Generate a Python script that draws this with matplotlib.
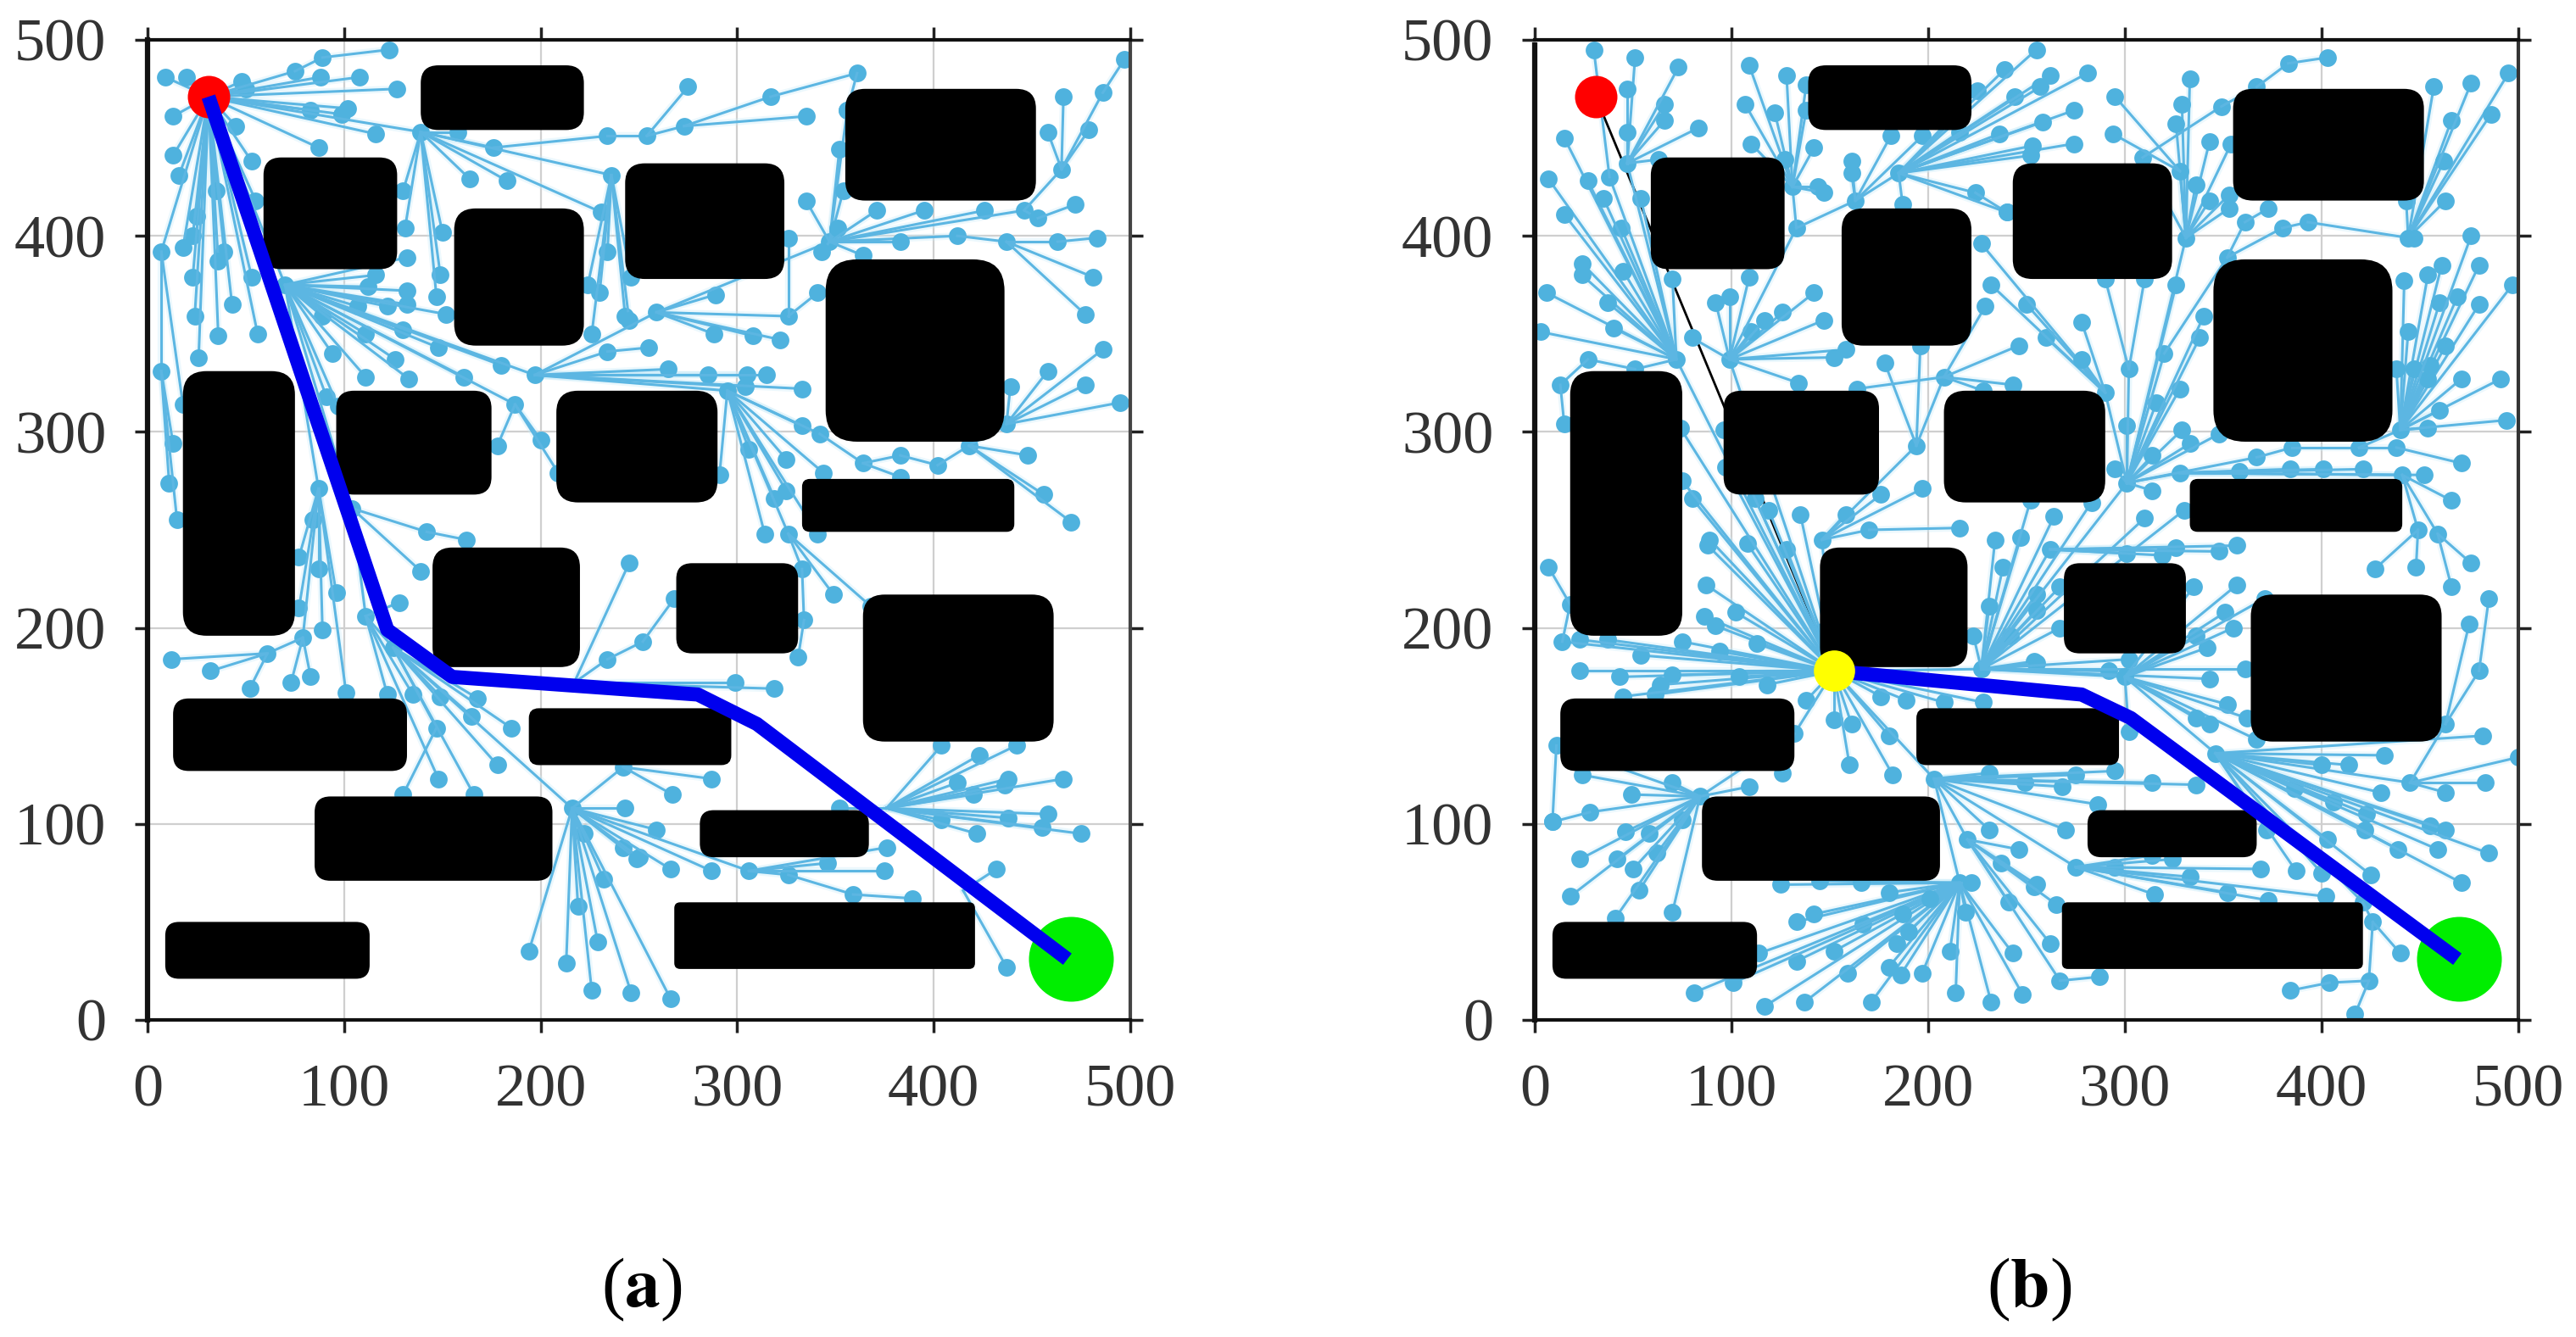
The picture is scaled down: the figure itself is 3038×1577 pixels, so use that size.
import matplotlib
matplotlib.use('Agg')
import matplotlib.pyplot as plt
from matplotlib.patches import FancyBboxPatch

plt.rcParams['font.family'] = ['Liberation Serif', 'DejaVu Serif']
plt.rcParams['mathtext.fontset'] = 'stix'

W, H = 3038, 1577
TICKS = [0, 100, 200, 300, 400, 500]
NODE = '#4fb2de'
LINE = '#5cb6e2'

# obstacles, same map in both panels
ob_x0 = [139, 355, 59, 156, 243, 345, 18, 96, 208, 333, 145, 269, 364, 13, 194, 85, 281, 9, 268]
ob_x1 = [222, 452, 127, 222, 324, 436, 75, 175, 290, 441, 220, 331, 461, 132, 297, 206, 367, 113, 421]
ob_y0 = [454, 418, 383, 344, 378, 295, 196, 268, 264, 249, 180, 187, 142, 127, 130, 71, 83, 21, 26]
ob_y1 = [487, 475, 440, 414, 437, 388, 331, 321, 321, 276, 241, 233, 217, 164, 159, 114, 107, 50, 60]
ob_r = [9, 10, 9, 11, 10, 16, 12, 9, 11, 4, 10, 8, 11, 8, 5, 8, 7, 7, 3]

start = (31, 471)
goal = (470, 31)
via = (152, 178)

path_a_x = [31, 122, 155, 280, 310, 468]
path_a_y = [471, 199, 175, 166, 151, 31]
path_b_x = [152, 278, 303, 469]
path_b_y = [178, 166, 154, 31]

# ---- panel (a) tree: hub + leaves
a1_hub = (31, 471)
a1 = [(9, 481), (20, 481), (48, 479), (50, 475), (75, 484), (88, 481), (108, 481), (127, 475), (83, 464),
      (102, 465), (99, 462), (139, 453), (116, 452), (87, 445), (13, 461), (13, 441), (16, 431), (45, 456),
      (53, 438), (55, 418), (35, 423), (25, 410), (23, 400), (7, 392), (18, 394), (39, 392), (36, 387),
      (23, 379), (53, 379), (43, 365), (24, 359), (36, 349), (56, 350), (26, 338), (70, 375)]
a2_hub = (75, 484)
a2 = [(89, 491)]
a3_hub = (89, 491)
a3 = [(123, 495)]
a4_hub = (7, 392)
a4 = [(7, 331), (18, 314)]
a5_hub = (7, 331)
a5 = [(13, 294), (11, 274), (15, 255)]
a6_hub = (139, 453)
a6 = [(130, 423), (131, 404), (150, 402), (149, 380), (147, 369), (158, 453), (176, 445), (164, 429), (183, 428), (236, 431), (231, 412)]
a7_hub = (176, 445)
a7 = [(234, 451)]
a8_hub = (234, 451)
a8 = [(254, 451)]
a9_hub = (254, 451)
a9 = [(275, 476), (273, 456)]
a10_hub = (273, 456)
a10 = [(317, 471), (335, 461)]
a11_hub = (317, 471)
a11 = [(361, 483)]
a12_hub = (361, 483)
a12 = [(356, 464)]
a13_hub = (236, 431)
a13 = [(234, 392), (230, 371), (226, 350), (224, 375), (243, 359), (245, 357), (246, 379)]
a14_hub = (70, 375)
a14 = [(116, 380), (112, 374), (132, 389), (107, 364), (122, 364), (132, 372), (132, 365), (152, 360),
       (89, 359), (111, 350), (130, 352), (148, 343), (94, 340), (126, 337), (111, 328), (133, 327),
       (161, 328), (180, 334), (197, 329), (187, 314), (91, 318), (97, 313), (87, 271), (104, 261)]
a15_hub = (187, 314)
a15 = [(200, 296), (209, 279), (178, 293)]
a16_hub = (197, 329)
a16 = [(234, 341), (265, 332), (285, 329), (305, 329), (315, 329), (304, 323), (333, 322), (295, 321), (259, 361)]
a17_hub = (234, 341)
a17 = [(255, 343)]
a18_hub = (259, 361)
a18 = [(289, 370), (326, 359), (308, 349), (322, 347), (288, 350), (347, 397)]
a19_hub = (326, 359)
a19 = [(341, 371), (326, 399)]
a20_hub = (347, 397)
a20 = [(356, 464), (352, 444), (354, 423), (335, 418), (351, 404), (371, 413), (395, 413), (426, 413),
       (446, 413), (412, 400), (383, 397), (364, 390), (343, 392)]
a21_hub = (446, 413)
a21 = [(465, 434), (453, 409)]
a22_hub = (465, 434)
a22 = [(466, 471), (458, 453), (479, 454), (486, 473)]
a23_hub = (486, 473)
a23 = [(497, 490)]
a24_hub = (453, 409)
a24 = [(472, 416)]
a25_hub = (412, 400)
a25 = [(437, 397)]
a26_hub = (437, 397)
a26 = [(463, 397), (481, 379), (477, 360)]
a27_hub = (463, 397)
a27 = [(483, 399)]
a28_hub = (295, 321)
a28 = [(306, 291), (325, 286), (291, 278), (344, 279), (325, 270), (319, 266), (314, 248), (326, 248),
       (341, 248), (333, 303), (342, 299)]
a29_hub = (342, 299)
a29 = [(364, 284)]
a30_hub = (364, 284)
a30 = [(383, 288), (383, 277)]
a31_hub = (383, 288)
a31 = [(402, 283)]
a32_hub = (402, 283)
a32 = [(418, 293)]
a33_hub = (418, 293)
a33 = [(437, 304), (448, 288), (456, 268), (470, 254)]
a34_hub = (437, 304)
a34 = [(439, 323), (458, 331), (477, 324), (486, 342), (495, 315)]
a35_hub = (326, 248)
a35 = [(333, 230), (349, 217), (368, 211)]
a36_hub = (333, 230)
a36 = [(334, 204)]
a37_hub = (334, 204)
a37 = [(331, 185)]
a38_hub = (87, 271)
a38 = [(84, 255), (77, 236), (87, 230), (96, 218), (77, 210), (89, 199), (79, 195), (101, 167)]
a39_hub = (79, 195)
a39 = [(61, 187), (73, 172), (83, 175)]
a40_hub = (61, 187)
a40 = [(12, 184), (32, 178), (52, 169)]
a41_hub = (104, 261)
a41 = [(142, 249), (139, 229), (111, 206)]
a42_hub = (142, 249)
a42 = [(162, 245)]
a43_hub = (111, 206)
a43 = [(122, 166), (135, 166), (148, 123), (128, 213), (125, 190)]
a44_hub = (125, 190)
a44 = [(149, 165), (147, 149), (168, 164), (165, 155), (216, 108), (185, 149), (178, 130), (166, 115)]
a45_hub = (147, 149)
a45 = [(130, 115)]
a46_hub = (216, 108)
a46 = [(243, 108), (222, 95), (242, 88), (249, 82), (232, 72), (219, 58), (229, 40), (194, 35), (213, 29),
       (226, 15), (246, 14), (266, 11), (242, 129), (259, 97), (250, 83), (266, 77), (287, 76), (306, 76)]
a47_hub = (242, 129)
a47 = [(287, 123), (267, 115)]
a48_hub = (306, 76)
a48 = [(326, 74), (346, 80), (375, 76), (376, 88)]
a49_hub = (326, 74)
a49 = [(359, 64)]
a50_hub = (359, 64)
a50 = [(389, 62)]
a51_hub = (217, 172)
a51 = [(234, 184), (245, 233), (299, 172), (319, 169)]
a52_hub = (234, 184)
a52 = [(252, 193)]
a53_hub = (252, 193)
a53 = [(268, 215)]
a54_hub = (376, 108)
a54 = [(404, 140), (423, 135), (442, 140), (412, 121), (420, 115), (438, 123), (436, 120), (466, 123),
       (404, 102), (422, 95), (438, 103), (458, 105), (455, 98), (475, 95), (352, 108)]
a55_hub = (415, 66)
a55 = [(437, 27), (432, 77)]

fans_a = [(a1_hub, a1), (a2_hub, a2), (a3_hub, a3), (a4_hub, a4), (a5_hub, a5), (a6_hub, a6), (a7_hub, a7),
          (a8_hub, a8), (a9_hub, a9), (a10_hub, a10), (a11_hub, a11), (a12_hub, a12), (a13_hub, a13),
          (a14_hub, a14), (a15_hub, a15), (a16_hub, a16), (a17_hub, a17), (a18_hub, a18), (a19_hub, a19),
          (a20_hub, a20), (a21_hub, a21), (a22_hub, a22), (a23_hub, a23), (a24_hub, a24), (a25_hub, a25),
          (a26_hub, a26), (a27_hub, a27), (a28_hub, a28), (a29_hub, a29), (a30_hub, a30), (a31_hub, a31),
          (a32_hub, a32), (a33_hub, a33), (a34_hub, a34), (a35_hub, a35), (a36_hub, a36), (a37_hub, a37),
          (a38_hub, a38), (a39_hub, a39), (a40_hub, a40), (a41_hub, a41), (a42_hub, a42), (a43_hub, a43),
          (a44_hub, a44), (a45_hub, a45), (a46_hub, a46), (a47_hub, a47), (a48_hub, a48), (a49_hub, a49),
          (a50_hub, a50), (a51_hub, a51), (a52_hub, a52), (a53_hub, a53), (a54_hub, a54), (a55_hub, a55)]

# ---- panel (b) tree
b1_hub = (152, 178)
b1 = [(88, 242), (108, 243), (128, 240), (87, 222), (102, 208), (86, 206), (92, 201), (113, 192), (146, 198),
      (75, 193), (94, 188), (54, 186), (37, 194), (23, 194), (14, 193), (23, 178), (43, 175), (70, 176),
      (64, 171), (61, 166), (45, 165), (118, 171), (104, 175), (138, 163), (132, 146), (152, 153), (161, 151),
      (160, 130), (182, 125), (180, 145), (176, 165), (189, 163), (208, 162), (228, 162), (203, 123),
      (227, 179), (72, 337), (99, 337), (146, 245), (112, 266), (119, 260), (135, 258), (80, 266), (89, 245),
      (75, 275), (74, 302), (96, 301), (97, 282)]
b2_hub = (14, 193)
b2 = [(18, 212)]
b3_hub = (18, 212)
b3 = [(7, 231)]
b4_hub = (132, 146)
b4 = [(84, 114), (126, 126)]
b5_hub = (84, 114)
b5 = [(109, 119), (70, 121), (49, 115), (24, 125), (11, 140), (28, 106), (46, 96), (58, 95), (75, 102),
      (23, 82), (42, 82), (62, 85), (18, 63), (50, 77), (53, 66), (41, 52), (70, 55)]
b6_hub = (11, 140)
b6 = [(9, 101)]
b7_hub = (28, 106)
b7 = [(9, 101)]
b8_hub = (203, 123)
b8 = [(216, 70), (220, 92), (231, 97), (249, 121), (231, 126), (275, 125), (268, 119), (295, 127), (314, 121),
      (336, 120), (286, 110), (270, 97), (275, 78)]
b9_hub = (216, 70)
b9 = [(133, 50), (142, 54), (167, 49), (114, 34), (133, 30), (152, 35), (159, 24), (101, 19), (81, 14), (117, 7),
      (137, 9), (171, 9), (180, 27), (186, 23), (197, 24), (184, 39), (190, 45), (187, 54), (180, 65), (201, 62),
      (211, 35), (214, 14), (232, 9), (248, 13), (243, 34), (219, 55), (222, 70), (125, 69), (145, 71), (166, 70)]
b10_hub = (220, 92)
b10 = [(237, 80), (241, 60), (246, 87), (254, 68), (255, 69), (265, 59), (262, 39), (267, 20)]
b11_hub = (267, 20)
b11 = [(287, 22)]
b12_hub = (275, 78)
b12 = [(295, 78), (314, 84), (324, 82), (333, 73), (369, 77), (315, 64), (352, 65), (373, 61), (402, 63)]
b13_hub = (227, 179)
b13 = [(234, 245), (247, 246), (238, 231), (231, 211), (223, 196), (242, 196), (255, 217), (254, 183), (301, 274),
       (255, 209), (267, 221), (267, 200), (262, 240), (255, 182), (292, 178), (302, 184), (343, 174), (361, 179),
       (283, 264), (264, 257), (252, 265), (310, 256), (330, 260), (300, 175)]
b14_hub = (262, 240)
b14 = [(301, 238), (319, 237), (326, 241), (348, 239), (357, 242)]
b15_hub = (300, 175)
b15 = [(336, 196), (342, 190), (355, 200), (335, 221), (357, 222), (351, 208), (371, 215), (352, 161), (362, 154),
       (367, 143), (343, 151), (336, 154), (302, 147), (346, 136)]
b16_hub = (346, 136)
b16 = [(482, 145), (432, 135), (414, 130), (445, 121), (430, 116), (400, 130), (386, 118), (406, 111), (423, 105),
       (422, 97), (455, 99), (463, 97), (459, 87), (485, 85), (439, 87), (471, 70), (403, 92), (372, 97), (387, 76),
       (400, 75), (425, 74), (421, 60)]
b17_hub = (445, 121)
b17 = [(463, 116), (483, 121), (500, 134), (463, 151)]
b18_hub = (463, 151)
b18 = [(475, 202), (480, 178)]
b19_hub = (480, 178)
b19 = [(485, 215)]
b20_hub = (421, 60)
b20 = [(426, 50)]
b21_hub = (426, 50)
b21 = [(440, 34), (424, 20)]
b22_hub = (424, 20)
b22 = [(404, 19), (417, 3)]
b23_hub = (404, 19)
b23 = [(384, 15)]
b24_hub = (301, 274)
b24 = [(301, 303), (329, 301), (333, 294), (348, 299), (314, 288), (295, 281), (314, 270), (328, 279), (331, 399),
       (290, 320), (302, 332), (316, 315), (320, 340), (328, 322), (338, 348), (340, 359), (326, 375), (367, 287)]
b25_hub = (302, 332)
b25 = [(290, 378), (310, 378)]
b26_hub = (290, 320)
b26 = [(260, 348), (250, 365), (232, 375), (227, 396), (278, 356), (278, 337)]
b27_hub = (328, 279)
b27 = [(358, 280), (384, 281), (401, 281), (421, 281), (452, 278), (441, 278)]
b28_hub = (367, 287)
b28 = [(385, 292)]
b29_hub = (385, 292)
b29 = [(419, 292)]
b30_hub = (419, 292)
b30 = [(438, 292), (440, 301)]
b31_hub = (438, 292)
b31 = [(471, 284)]
b32_hub = (441, 278)
b32 = [(466, 265), (449, 250), (459, 248)]
b33_hub = (459, 248)
b33 = [(476, 233), (466, 221)]
b34_hub = (449, 250)
b34 = [(448, 231), (427, 230)]
b35_hub = (440, 301)
b35 = [(442, 377), (454, 380), (461, 385), (480, 385), (497, 375), (460, 366), (469, 369), (480, 365), (444, 351),
       (463, 344), (455, 334), (438, 332), (447, 332), (454, 327), (471, 327), (491, 327), (460, 311), (454, 302),
       (494, 306), (476, 400)]
b36_hub = (444, 399)
b36 = [(443, 418), (495, 483), (486, 462), (466, 459), (462, 438), (463, 418), (447, 399), (457, 476), (476, 478)]
b37_hub = (320, 340)
b37 = [(352, 389)]
b38_hub = (352, 389)
b38 = [(380, 404), (361, 407)]
b39_hub = (380, 404)
b39 = [(393, 407)]
b40_hub = (393, 407)
b40 = [(444, 399)]
b41_hub = (361, 407)
b41 = [(373, 414)]
b42_hub = (331, 399)
b42 = [(333, 480), (329, 467), (326, 457), (343, 448), (354, 447), (336, 426), (343, 418), (353, 421), (353, 414),
       (328, 433), (309, 440)]
b43_hub = (328, 433)
b43 = [(295, 471), (294, 452)]
b44_hub = (309, 440)
b44 = [(349, 466)]
b45_hub = (349, 466)
b45 = [(367, 476)]
b46_hub = (367, 476)
b46 = [(383, 488)]
b47_hub = (383, 488)
b47 = [(403, 491)]
b48_hub = (72, 337)
b48 = [(15, 450), (27, 428), (7, 429), (15, 411), (44, 404), (35, 419), (54, 419), (24, 386), (24, 380), (6, 371),
       (45, 382), (37, 366), (3, 351), (40, 353), (70, 378), (47, 437), (51, 332), (38, 430)]
b49_hub = (47, 437)
b49 = [(51, 491), (47, 475), (66, 467), (66, 459), (73, 486), (83, 455), (63, 439), (47, 453)]
b50_hub = (38, 430)
b50 = [(30, 495)]
b51_hub = (51, 332)
b51 = [(27, 337)]
b52_hub = (27, 337)
b52 = [(13, 324)]
b53_hub = (13, 324)
b53 = [(15, 304)]
b54_hub = (99, 337)
b54 = [(92, 366), (99, 369), (109, 379), (126, 361), (142, 371), (147, 357), (110, 351), (117, 357), (158, 342),
       (152, 338), (134, 325), (80, 348), (133, 404)]
b55_hub = (133, 404)
b55 = [(131, 425), (163, 418)]
b56_hub = (131, 425)
b56 = [(109, 487), (128, 482), (107, 467), (122, 463), (110, 447), (138, 477), (138, 464), (142, 445), (127, 439),
       (144, 425), (147, 422)]
b57_hub = (163, 418)
b57 = [(185, 432), (161, 438), (161, 432), (181, 451), (197, 451)]
b58_hub = (185, 432)
b58 = [(216, 453), (225, 474), (239, 485), (255, 495), (236, 452), (244, 471), (262, 482), (257, 476), (281, 483),
       (274, 464), (258, 458), (274, 447), (253, 446), (252, 441), (224, 422), (240, 412), (187, 416)]
b59_hub = (146, 245)
b59 = [(194, 293), (197, 271), (158, 258), (176, 268), (170, 250)]
b60_hub = (170, 250)
b60 = [(216, 251)]
b61_hub = (194, 293)
b61 = [(178, 335), (196, 344), (208, 328)]
b62_hub = (208, 328)
b62 = [(229, 364), (246, 344), (243, 324), (164, 322), (228, 321)]
b63_hub = (224, 422)
b63 = [(240, 412)]

fans_b = [(b1_hub, b1), (b2_hub, b2), (b3_hub, b3), (b4_hub, b4), (b5_hub, b5), (b6_hub, b6), (b7_hub, b7),
          (b8_hub, b8), (b9_hub, b9), (b10_hub, b10), (b11_hub, b11), (b12_hub, b12), (b13_hub, b13),
          (b14_hub, b14), (b15_hub, b15), (b16_hub, b16), (b17_hub, b17), (b18_hub, b18), (b19_hub, b19),
          (b20_hub, b20), (b21_hub, b21), (b22_hub, b22), (b23_hub, b23), (b24_hub, b24), (b25_hub, b25),
          (b26_hub, b26), (b27_hub, b27), (b28_hub, b28), (b29_hub, b29), (b30_hub, b30), (b31_hub, b31),
          (b32_hub, b32), (b33_hub, b33), (b34_hub, b34), (b35_hub, b35), (b36_hub, b36), (b37_hub, b37),
          (b38_hub, b38), (b39_hub, b39), (b40_hub, b40), (b41_hub, b41), (b42_hub, b42), (b43_hub, b43),
          (b44_hub, b44), (b45_hub, b45), (b46_hub, b46), (b47_hub, b47), (b48_hub, b48), (b49_hub, b49),
          (b50_hub, b50), (b51_hub, b51), (b52_hub, b52), (b53_hub, b53), (b54_hub, b54), (b55_hub, b55),
          (b56_hub, b56), (b57_hub, b57), (b58_hub, b58), (b59_hub, b59), (b60_hub, b60), (b61_hub, b61),
          (b62_hub, b62), (b63_hub, b63)]


def draw_fans(ax, fans):
    for hub, leaves in fans:
        for x, y in leaves:
            xs, ys = [hub[0], x], [hub[1], y]
            ax.plot(xs, ys, color='#c9ecfa', lw=6, alpha=0.35, zorder=2, solid_capstyle='round')
            ax.plot(xs, ys, color=LINE, lw=2.2, zorder=3)
            ax.plot([x], [y], 'o', color=NODE, ms=15, mec='none', zorder=3)


def draw_obstacles(ax):
    for x0, x1, y0, y1, r in zip(ob_x0, ob_x1, ob_y0, ob_y1, ob_r):
        box = FancyBboxPatch((x0 + r, y0 + r), x1 - x0 - 2 * r, y1 - y0 - 2 * r,
                             boxstyle='round,pad=%g,rounding_size=%g' % (r, r),
                             fc='black', ec='none', zorder=4)
        ax.add_patch(box)


def setup_axes(ax):
    ax.set_xlim(0, 500)
    ax.set_ylim(0, 500)
    ax.set_xticks(TICKS)
    ax.set_yticks(TICKS)
    ax.tick_params(direction='out', length=11, width=2.5, top=True, right=True,
                   labelsize=52, labelcolor='#333333', color='#222222')
    ax.tick_params(axis='x', pad=26)
    ax.tick_params(axis='y', pad=24)
    ax.grid(True, color='#cfcfcf', lw=1.6, zorder=0)
    ax.set_axisbelow(True)
    for s in ax.spines.values():
        s.set_linewidth(3)
        s.set_color('#111111')
        s.set_zorder(8)


fig = plt.figure(figsize=(W / 100, H / 100), dpi=100)
bottom = (H - 1203) / H
height = 1156 / H

# panel (a)
ax1 = fig.add_axes([174 / W, bottom, 1159 / W, height])
setup_axes(ax1)
ax1.spines['left'].set_linewidth(4.5)
ax1.spines['right'].set_color('#444444')
draw_fans(ax1, fans_a)
draw_obstacles(ax1)
ax1.plot(*start, 'o', color='#ff0000', ms=36, mec='none', zorder=5)
ax1.plot(*goal, 'o', color='#00ee00', ms=72, mec='none', zorder=5)
ax1.plot(path_a_x, path_a_y, color='#0000ee', lw=12, zorder=6, solid_capstyle='butt', solid_joinstyle='round')

# panel (b), map border drawn dashed
ax2 = fig.add_axes([1810 / W, bottom, 1160 / W, height])
setup_axes(ax2)
ax2.spines['left'].set_linewidth(4.5)
ax2.spines['left'].set_linestyle((0, (4, 1)))
ax2.spines['right'].set_color('#333333')
ax2.spines['right'].set_linestyle((0, (4, 1)))
ax2.plot([start[0], via[0]], [start[1], via[1]], color='black', lw=2, zorder=2.5)
draw_fans(ax2, fans_b)
draw_obstacles(ax2)
ax2.plot(*start, 'o', color='#ff0000', ms=36, mec='none', zorder=5)
ax2.plot(*goal, 'o', color='#00ee00', ms=72, mec='none', zorder=5)
ax2.plot(path_b_x, path_b_y, color='#0000ee', lw=12, zorder=6, solid_capstyle='butt', solid_joinstyle='round')
ax2.plot(*via, 'o', color='#ffff00', ms=35, mec='none', zorder=7)

fig.text(757 / W, 1 - 1521 / H, r'($\mathbf{a}$)', fontsize=60, ha='center', va='center', color='black')
fig.text(2393 / W, 1 - 1521 / H, r'($\mathbf{b}$)', fontsize=60, ha='center', va='center', color='black')

plt.savefig('out.png', dpi=100)
plt.close()
